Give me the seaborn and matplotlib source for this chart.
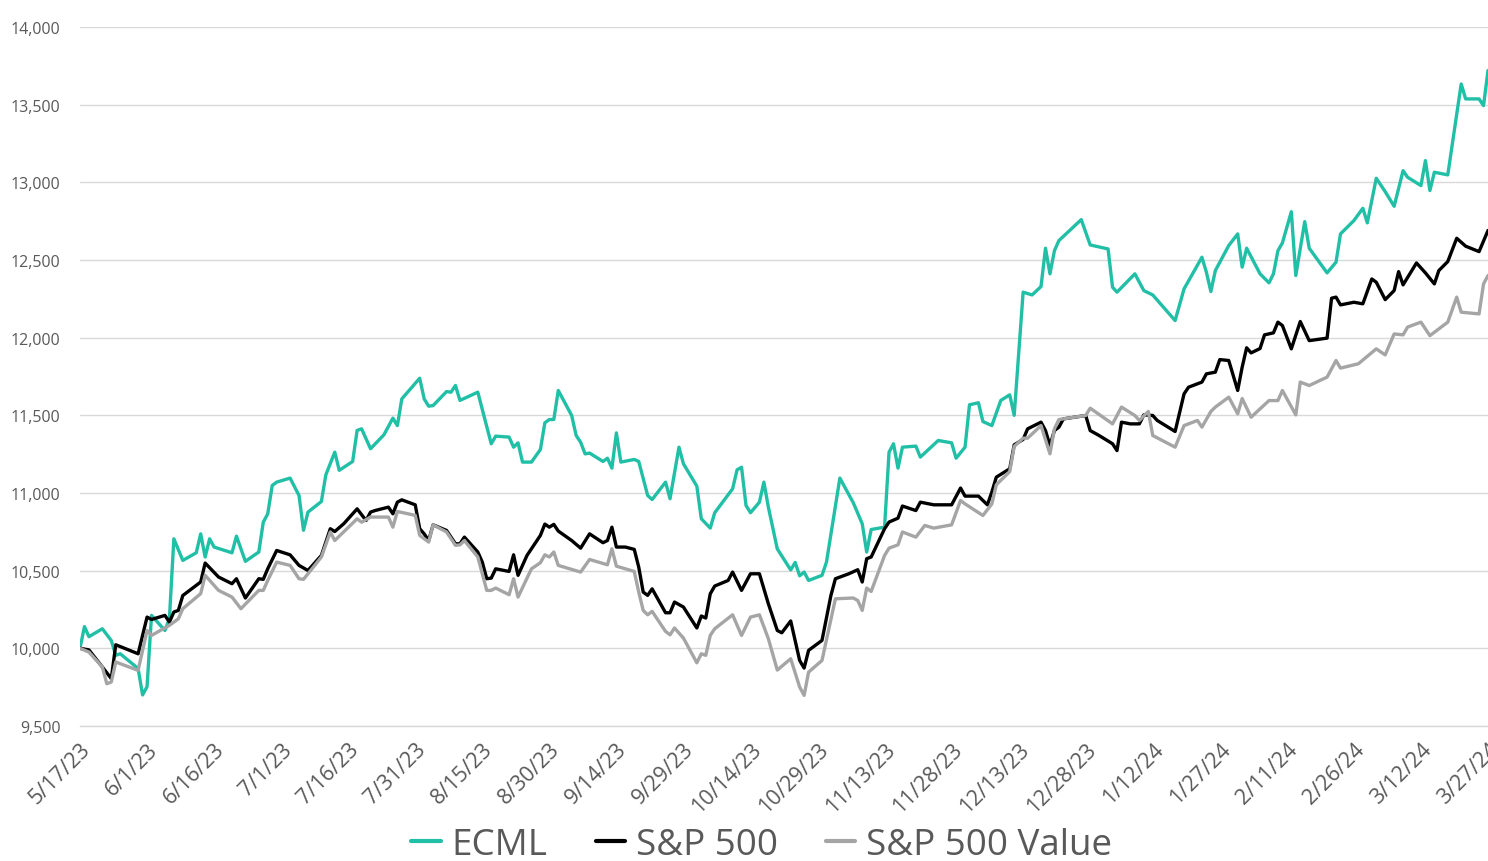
import pandas as pd
import numpy as np
import matplotlib
matplotlib.use("Agg")
import matplotlib.pyplot as plt
import seaborn as sns

# ---------------- data ----------------
START = "2023-05-17"
END = "2024-03-27"
series_names = ["ECML", "S&P 500", "S&P 500 Value"]

# days since START
ecml_days = [0, 1, 2, 5, 7, 8, 9, 13, 14, 15, 16, 19, 20, 21, 23, 26, 27, 28, 29, 30, 34, 35, 37, 40, 41, 42, 43, 44, 47, 49, 50, 51, 54, 55, 57, 58, 61, 62, 63, 65, 68, 70, 71, 72, 76, 77, 78, 79, 82, 83, 84, 85, 89, 92, 93, 96, 97, 98, 99, 101, 103, 104, 105, 106, 107, 110, 111, 112, 113, 114, 117, 118, 119, 120, 121, 124, 125, 127, 128, 131, 132, 134, 135, 138, 139, 141, 142, 146, 147, 148, 149, 150, 152, 153, 154, 156, 159, 160, 161, 162, 163, 166, 167, 170, 173, 175, 176, 177, 180, 181, 182, 183, 184, 187, 188, 192, 195, 196, 198, 199, 201, 202, 204, 206, 208, 209, 211, 213, 215, 216, 217, 218, 219, 224, 226, 230, 231, 232, 236, 238, 240, 245, 247, 251, 252, 253, 254, 257, 259, 260, 261, 264, 266, 267, 268, 269, 271, 272, 274, 275, 279, 281, 282, 285, 287, 288, 290, 292, 294, 296, 297, 300, 301, 302, 303, 306, 309, 310, 313, 314, 315]
ecml_vals = [10000, 10140, 10075, 10126, 10050, 9955, 9965, 9870, 9700, 9753, 10212, 10115, 10190, 10705, 10566, 10615, 10737, 10588, 10705, 10652, 10615, 10722, 10560, 10620, 10812, 10866, 11048, 11070, 11096, 10984, 10760, 10877, 10945, 11117, 11263, 11146, 11203, 11403, 11413, 11285, 11375, 11482, 11434, 11606, 11739, 11606, 11559, 11563, 11653, 11649, 11692, 11596, 11649, 11317, 11366, 11360, 11295, 11323, 11199, 11199, 11280, 11452, 11473, 11473, 11660, 11499, 11370, 11327, 11252, 11257, 11203, 11224, 11160, 11387, 11199, 11216, 11203, 10984, 10958, 11070, 10963, 11295, 11188, 11044, 10834, 10774, 10873, 11027, 11149, 11166, 10920, 10873, 10941, 11070, 10909, 10640, 10505, 10553, 10467, 10491, 10437, 10470, 10555, 11096, 10937, 10802, 10620, 10765, 10780, 11263, 11317, 11160, 11295, 11302, 11231, 11338, 11323, 11224, 11295, 11568, 11581, 11460, 11434, 11596, 11632, 11500, 12293, 12275, 12329, 12576, 12411, 12560, 12625, 12760, 12597, 12571, 12325, 12293, 12411, 12303, 12275, 12110, 12314, 12518, 12421, 12297, 12432, 12593, 12668, 12454, 12576, 12411, 12353, 12411, 12560, 12610, 12811, 12400, 12747, 12576, 12417, 12486, 12668, 12754, 12833, 12739, 13026, 12940, 12846, 13075, 13033, 12979, 13140, 12947, 13065, 13048, 13633, 13537, 13537, 13494, 13720]

spx_days = [0, 2, 5, 7, 8, 13, 15, 16, 19, 20, 21, 22, 23, 27, 28, 31, 34, 35, 37, 40, 41, 42, 44, 47, 49, 51, 54, 56, 57, 59, 62, 64, 65, 66, 69, 70, 71, 72, 75, 76, 77, 78, 79, 82, 84, 85, 86, 89, 90, 91, 92, 93, 96, 97, 98, 100, 103, 104, 105, 106, 107, 110, 112, 114, 117, 118, 119, 120, 122, 124, 125, 126, 127, 128, 131, 132, 133, 135, 138, 139, 140, 141, 142, 145, 146, 148, 150, 152, 154, 156, 157, 159, 161, 162, 163, 166, 168, 169, 172, 174, 175, 176, 177, 180, 181, 183, 184, 187, 188, 191, 195, 197, 198, 201, 203, 204, 205, 208, 209, 211, 212, 215, 216, 217, 218, 219, 220, 225, 226, 228, 231, 232, 233, 235, 237, 238, 240, 241, 245, 247, 248, 251, 252, 254, 255, 257, 259, 260, 261, 262, 264, 265, 267, 268, 269, 271, 273, 275, 279, 280, 281, 282, 285, 287, 289, 290, 292, 294, 295, 296, 299, 301, 303, 304, 306, 308, 310, 313, 315]
spx_vals = [10000, 9990, 9880, 9805, 10023, 9965, 10201, 10186, 10212, 10169, 10234, 10244, 10340, 10427, 10549, 10459, 10416, 10448, 10324, 10448, 10444, 10512, 10630, 10602, 10534, 10501, 10598, 10770, 10752, 10802, 10898, 10823, 10877, 10887, 10909, 10866, 10941, 10956, 10924, 10770, 10737, 10694, 10795, 10759, 10673, 10673, 10716, 10620, 10555, 10448, 10452, 10512, 10495, 10602, 10470, 10598, 10727, 10800, 10780, 10798, 10755, 10694, 10645, 10737, 10680, 10694, 10780, 10652, 10652, 10637, 10523, 10362, 10341, 10383, 10229, 10229, 10298, 10266, 10131, 10208, 10195, 10351, 10401, 10437, 10491, 10373, 10480, 10480, 10287, 10115, 10100, 10176, 9922, 9873, 9987, 10051, 10341, 10448, 10480, 10506, 10427, 10577, 10588, 10770, 10813, 10838, 10916, 10887, 10941, 10924, 10924, 11032, 10980, 10980, 10924, 11006, 11102, 11156, 11310, 11345, 11413, 11456, 11402, 11306, 11402, 11424, 11477, 11499, 11402, 11370, 11317, 11273, 11456, 11445, 11445, 11503, 11499, 11467, 11396, 11638, 11681, 11714, 11767, 11778, 11859, 11853, 11660, 11810, 11935, 11902, 11930, 12018, 12031, 12100, 12078, 11928, 12104, 11981, 11997, 12254, 12261, 12211, 12228, 12218, 12378, 12357, 12245, 12303, 12425, 12340, 12481, 12417, 12346, 12432, 12490, 12640, 12589, 12554, 12690]

spv_days = [0, 2, 5, 6, 7, 8, 13, 15, 16, 20, 22, 23, 27, 28, 31, 34, 36, 40, 41, 42, 44, 47, 49, 50, 54, 56, 57, 62, 63, 65, 69, 70, 71, 75, 76, 78, 79, 82, 84, 85, 86, 89, 91, 92, 93, 96, 97, 98, 101, 103, 104, 105, 106, 107, 112, 114, 118, 119, 120, 124, 125, 126, 127, 128, 131, 132, 133, 135, 138, 139, 140, 141, 142, 146, 148, 150, 152, 154, 156, 159, 161, 162, 163, 166, 169, 173, 174, 175, 176, 177, 180, 181, 183, 184, 187, 189, 191, 195, 197, 198, 202, 204, 205, 208, 209, 211, 212, 215, 217, 218, 219, 225, 226, 231, 233, 236, 237, 239, 240, 245, 247, 250, 251, 253, 254, 257, 259, 260, 262, 266, 268, 269, 272, 273, 275, 279, 281, 282, 286, 290, 292, 294, 296, 297, 300, 302, 306, 308, 309, 313, 314, 315]
spv_vals = [10000, 9976, 9880, 9772, 9783, 9912, 9858, 10115, 10083, 10148, 10190, 10255, 10352, 10470, 10373, 10330, 10255, 10373, 10373, 10437, 10555, 10534, 10448, 10444, 10588, 10749, 10694, 10834, 10812, 10845, 10845, 10780, 10881, 10856, 10727, 10684, 10795, 10749, 10663, 10666, 10694, 10588, 10373, 10373, 10388, 10345, 10448, 10330, 10512, 10551, 10602, 10588, 10620, 10534, 10491, 10572, 10538, 10641, 10529, 10495, 10362, 10244, 10216, 10238, 10109, 10087, 10131, 10066, 9907, 9965, 9955, 10083, 10126, 10216, 10083, 10201, 10216, 10062, 9860, 9933, 9751, 9697, 9847, 9922, 10319, 10324, 10308, 10244, 10388, 10366, 10598, 10645, 10666, 10749, 10716, 10791, 10774, 10795, 10952, 10930, 10855, 10930, 11053, 11138, 11300, 11353, 11353, 11434, 11252, 11413, 11473, 11499, 11546, 11445, 11553, 11499, 11467, 11525, 11370, 11295, 11434, 11467, 11424, 11525, 11553, 11617, 11510, 11608, 11488, 11595, 11595, 11660, 11503, 11714, 11692, 11746, 11853, 11804, 11832, 11928, 11889, 12024, 12018, 12068, 12100, 12013, 12100, 12261, 12164, 12153, 12346, 12400]

y_ticks = [9500, 10000, 10500, 11000, 11500, 12000, 12500, 13000, 13500, 14000]
x_tick_step_days = 15

colors = {"ECML": "#20bfa6", "S&P 500": "#000000", "S&P 500 Value": "#a5a5a5"}

# ---------------- build frame ----------------
start = pd.Timestamp(START)
frames = []
for name, days, vals in [("ECML", ecml_days, ecml_vals),
                         ("S&P 500", spx_days, spx_vals),
                         ("S&P 500 Value", spv_days, spv_vals)]:
    frames.append(pd.DataFrame({
        "date": start + pd.to_timedelta(days, unit="D"),
        "value": vals,
        "series": name,
    }))
df = pd.concat(frames, ignore_index=True)

# ---------------- plot ----------------
sns.set_theme(style="white")
plt.rcParams["font.family"] = ["Open Sans", "DejaVu Sans"]

fig = plt.figure(figsize=(14.88, 8.62), dpi=100)
ax = fig.add_axes([80 / 1488, 1 - 727 / 862, 1 - 80 / 1488, (727 - 28) / 862])

sns.lineplot(data=df, x="date", y="value", hue="series", hue_order=series_names,
             palette=colors, estimator=None, linewidth=2.4, ax=ax, legend=False)

ax.set_xlim(pd.Timestamp(START), pd.Timestamp(END))
ax.set_ylim(y_ticks[0], y_ticks[-1])
ax.set_yticks(y_ticks)
ax.set_yticklabels([f"{v:,}" for v in y_ticks])

xt = pd.date_range(START, END, freq=f"{x_tick_step_days}D")
ax.set_xticks(xt)
ax.set_xticklabels([f"{d.month}/{d.day}/{d:%y}" for d in xt],
                   rotation=45, ha="right", rotation_mode="anchor")

ax.set_xlabel("")
ax.set_ylabel("")
ax.grid(axis="y", color="#d9d9d9", linewidth=1)
ax.grid(axis="x", visible=False)
for s in ["top", "right", "left"]:
    ax.spines[s].set_visible(False)
ax.spines["bottom"].set_color("#d9d9d9")
ax.spines["bottom"].set_linewidth(1)
ax.tick_params(axis="x", which="major", direction="out", length=6, width=1,
               color="#d9d9d9", labelsize=15.5, labelcolor="#595959", pad=3)
ax.tick_params(axis="y", length=0, labelsize=11.5, labelcolor="#595959", pad=14)
ax.set_axisbelow(True)

handles = [plt.Line2D([0], [0], color=colors[n], lw=3) for n in series_names]
fig.legend(handles, series_names, loc="center", bbox_to_anchor=(0.512, 1 - 846 / 862),
           ncol=3, frameon=False, fontsize=26.5, labelcolor="#595959",
           handlelength=0.8, handletextpad=0.3, columnspacing=1.3)

fig.savefig("out.png", dpi=100)
